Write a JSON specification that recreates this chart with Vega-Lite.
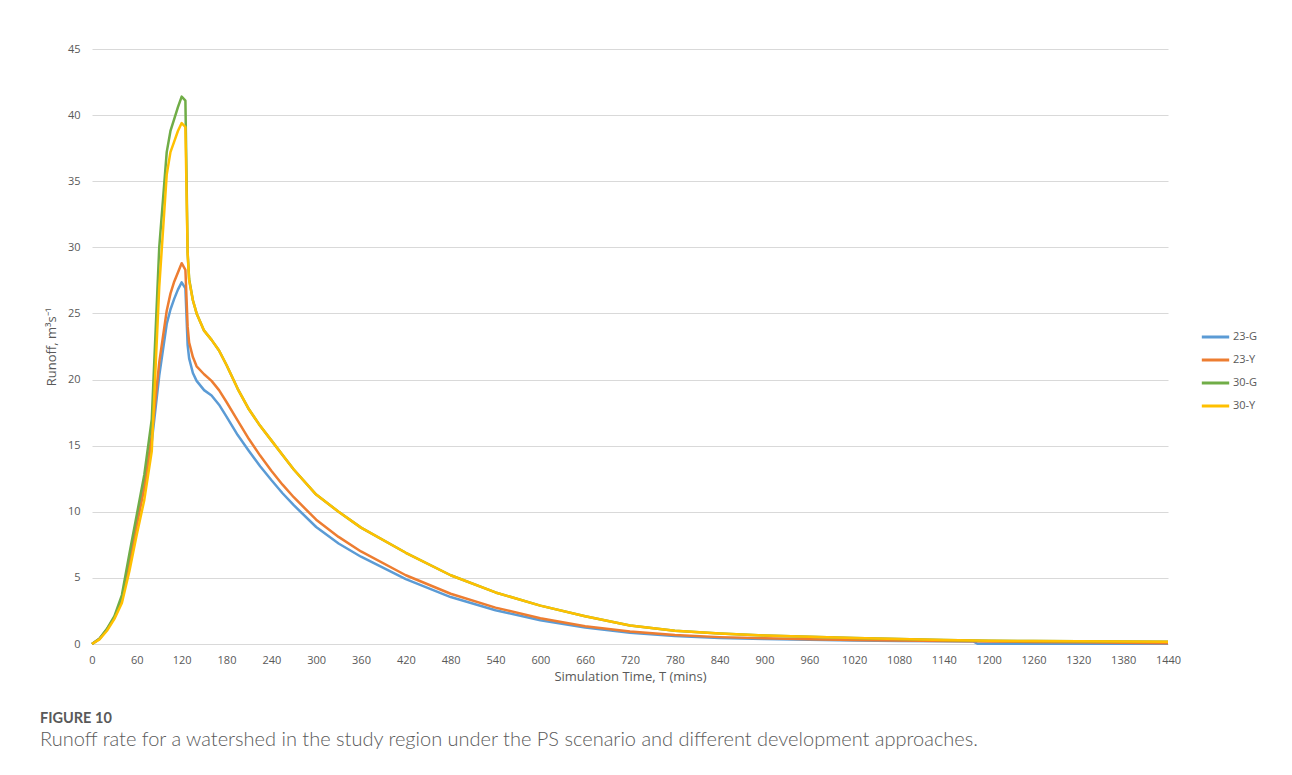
{
  "$schema": "https://vega.github.io/schema/vega-lite/v6.json",
  "autosize": {"type": "none"},
  "padding": {"left": 92, "top": 49, "right": 124, "bottom": 131},
  "width": 1076,
  "height": 595,
  "background": "white",
  "title": {
    "text": "FIGURE 10",
    "subtitle": "Runoff rate for a watershed in the study region under the PS scenario and different development approaches.",
    "orient": "bottom",
    "anchor": "start",
    "frame": "group",
    "dx": -52,
    "offset": 29,
    "font": "Lato",
    "fontSize": 14.5,
    "fontWeight": "bold",
    "color": "#595959",
    "subtitleFont": "Lato",
    "subtitleFontSize": 20,
    "subtitleFontWeight": 300,
    "subtitleColor": "#5a5a5a",
    "subtitlePadding": 3
  },
  "config": {
    "view": {"stroke": null},
    "axis": {
      "labelFont": "Open Sans",
      "labelFontSize": 11,
      "labelColor": "#595959",
      "titleFont": "Open Sans",
      "titleFontSize": 13,
      "titleFontWeight": "normal",
      "titleColor": "#595959",
      "gridColor": "#d9d9d9",
      "gridWidth": 1,
      "ticks": false,
      "domain": false
    }
  },
  "data": {
    "values": [
      {"t":0,"s":"23-G","q":0},{"t":10,"s":"23-G","q":0.4},{"t":20,"s":"23-G","q":1.1},{"t":30,"s":"23-G","q":2.0},{"t":40,"s":"23-G","q":3.4},{"t":50,"s":"23-G","q":6.3},{"t":60,"s":"23-G","q":9.3},{"t":70,"s":"23-G","q":12.0},{"t":80,"s":"23-G","q":15.3},{"t":90,"s":"23-G","q":20.3},{"t":100,"s":"23-G","q":24.2},{"t":105,"s":"23-G","q":25.3},{"t":110,"s":"23-G","q":26.1},{"t":115,"s":"23-G","q":26.8},{"t":120,"s":"23-G","q":27.35},{"t":125,"s":"23-G","q":26.9},{"t":128,"s":"23-G","q":22.6},{"t":130,"s":"23-G","q":21.6},{"t":135,"s":"23-G","q":20.5},{"t":140,"s":"23-G","q":19.9},{"t":150,"s":"23-G","q":19.2},{"t":160,"s":"23-G","q":18.8},{"t":170,"s":"23-G","q":18.1},{"t":180,"s":"23-G","q":17.2},{"t":195,"s":"23-G","q":15.8},{"t":210,"s":"23-G","q":14.6},{"t":225,"s":"23-G","q":13.45},{"t":240,"s":"23-G","q":12.4},{"t":255,"s":"23-G","q":11.4},{"t":270,"s":"23-G","q":10.5},{"t":300,"s":"23-G","q":8.85},{"t":330,"s":"23-G","q":7.6},{"t":360,"s":"23-G","q":6.6},{"t":420,"s":"23-G","q":4.9},{"t":480,"s":"23-G","q":3.55},{"t":540,"s":"23-G","q":2.55},{"t":600,"s":"23-G","q":1.8},{"t":660,"s":"23-G","q":1.25},{"t":720,"s":"23-G","q":0.85},{"t":780,"s":"23-G","q":0.6},{"t":840,"s":"23-G","q":0.45},{"t":900,"s":"23-G","q":0.38},{"t":960,"s":"23-G","q":0.32},{"t":1020,"s":"23-G","q":0.27},{"t":1080,"s":"23-G","q":0.23},{"t":1140,"s":"23-G","q":0.2},{"t":1180,"s":"23-G","q":0.18},{"t":1185,"s":"23-G","q":0.02},{"t":1200,"s":"23-G","q":0.02},{"t":1260,"s":"23-G","q":0.02},{"t":1320,"s":"23-G","q":0.02},{"t":1380,"s":"23-G","q":0.02},{"t":1440,"s":"23-G","q":0.02},

      {"t":0,"s":"23-Y","q":0},{"t":10,"s":"23-Y","q":0.4},{"t":20,"s":"23-Y","q":1.1},{"t":30,"s":"23-Y","q":2.0},{"t":40,"s":"23-Y","q":3.3},{"t":50,"s":"23-Y","q":6.0},{"t":60,"s":"23-Y","q":9.0},{"t":70,"s":"23-Y","q":11.8},{"t":80,"s":"23-Y","q":15.8},{"t":90,"s":"23-Y","q":21.3},{"t":100,"s":"23-Y","q":25.2},{"t":105,"s":"23-Y","q":26.5},{"t":110,"s":"23-Y","q":27.4},{"t":115,"s":"23-Y","q":28.1},{"t":120,"s":"23-Y","q":28.8},{"t":125,"s":"23-Y","q":28.3},{"t":128,"s":"23-Y","q":24.0},{"t":130,"s":"23-Y","q":22.8},{"t":135,"s":"23-Y","q":21.7},{"t":140,"s":"23-Y","q":21.0},{"t":150,"s":"23-Y","q":20.4},{"t":160,"s":"23-Y","q":19.9},{"t":170,"s":"23-Y","q":19.2},{"t":180,"s":"23-Y","q":18.3},{"t":195,"s":"23-Y","q":16.9},{"t":210,"s":"23-Y","q":15.5},{"t":225,"s":"23-Y","q":14.25},{"t":240,"s":"23-Y","q":13.1},{"t":255,"s":"23-Y","q":12.05},{"t":270,"s":"23-Y","q":11.1},{"t":300,"s":"23-Y","q":9.4},{"t":330,"s":"23-Y","q":8.1},{"t":360,"s":"23-Y","q":7.0},{"t":420,"s":"23-Y","q":5.2},{"t":480,"s":"23-Y","q":3.8},{"t":540,"s":"23-Y","q":2.75},{"t":600,"s":"23-Y","q":1.95},{"t":660,"s":"23-Y","q":1.35},{"t":720,"s":"23-Y","q":0.95},{"t":780,"s":"23-Y","q":0.68},{"t":840,"s":"23-Y","q":0.52},{"t":900,"s":"23-Y","q":0.43},{"t":960,"s":"23-Y","q":0.36},{"t":1020,"s":"23-Y","q":0.3},{"t":1080,"s":"23-Y","q":0.26},{"t":1140,"s":"23-Y","q":0.22},{"t":1180,"s":"23-Y","q":0.2},{"t":1200,"s":"23-Y","q":0.19},{"t":1260,"s":"23-Y","q":0.16},{"t":1320,"s":"23-Y","q":0.13},{"t":1380,"s":"23-Y","q":0.1},{"t":1440,"s":"23-Y","q":0.05},

      {"t":0,"s":"30-G","q":0},{"t":10,"s":"30-G","q":0.4},{"t":20,"s":"30-G","q":1.15},{"t":30,"s":"30-G","q":2.1},{"t":40,"s":"30-G","q":3.7},{"t":50,"s":"30-G","q":6.8},{"t":60,"s":"30-G","q":9.8},{"t":70,"s":"30-G","q":12.8},{"t":80,"s":"30-G","q":17.0},{"t":90,"s":"30-G","q":30.0},{"t":100,"s":"30-G","q":37.2},{"t":105,"s":"30-G","q":38.8},{"t":110,"s":"30-G","q":39.7},{"t":115,"s":"30-G","q":40.6},{"t":120,"s":"30-G","q":41.4},{"t":125,"s":"30-G","q":41.1},{"t":128,"s":"30-G","q":29.6},{"t":130,"s":"30-G","q":27.6},{"t":135,"s":"30-G","q":26.0},{"t":140,"s":"30-G","q":25.0},{"t":150,"s":"30-G","q":23.7},{"t":160,"s":"30-G","q":23.0},{"t":170,"s":"30-G","q":22.2},{"t":180,"s":"30-G","q":21.1},{"t":195,"s":"30-G","q":19.3},{"t":210,"s":"30-G","q":17.75},{"t":225,"s":"30-G","q":16.5},{"t":240,"s":"30-G","q":15.4},{"t":255,"s":"30-G","q":14.3},{"t":270,"s":"30-G","q":13.2},{"t":300,"s":"30-G","q":11.3},{"t":330,"s":"30-G","q":10.0},{"t":360,"s":"30-G","q":8.8},{"t":420,"s":"30-G","q":6.9},{"t":480,"s":"30-G","q":5.2},{"t":540,"s":"30-G","q":3.9},{"t":600,"s":"30-G","q":2.9},{"t":660,"s":"30-G","q":2.1},{"t":720,"s":"30-G","q":1.4},{"t":780,"s":"30-G","q":1.0},{"t":840,"s":"30-G","q":0.8},{"t":900,"s":"30-G","q":0.65},{"t":960,"s":"30-G","q":0.55},{"t":1020,"s":"30-G","q":0.45},{"t":1080,"s":"30-G","q":0.38},{"t":1140,"s":"30-G","q":0.3},{"t":1200,"s":"30-G","q":0.25},{"t":1260,"s":"30-G","q":0.22},{"t":1320,"s":"30-G","q":0.2},{"t":1380,"s":"30-G","q":0.18},{"t":1440,"s":"30-G","q":0.17},

      {"t":0,"s":"30-Y","q":0},{"t":10,"s":"30-Y","q":0.35},{"t":20,"s":"30-Y","q":1.0},{"t":30,"s":"30-Y","q":1.9},{"t":40,"s":"30-Y","q":3.1},{"t":50,"s":"30-Y","q":5.5},{"t":60,"s":"30-Y","q":8.3},{"t":70,"s":"30-Y","q":10.9},{"t":80,"s":"30-Y","q":14.6},{"t":90,"s":"30-Y","q":27.0},{"t":100,"s":"30-Y","q":35.5},{"t":105,"s":"30-Y","q":37.2},{"t":110,"s":"30-Y","q":38.0},{"t":115,"s":"30-Y","q":38.8},{"t":120,"s":"30-Y","q":39.4},{"t":125,"s":"30-Y","q":39.1},{"t":128,"s":"30-Y","q":29.5},{"t":130,"s":"30-Y","q":27.5},{"t":135,"s":"30-Y","q":26.0},{"t":140,"s":"30-Y","q":25.0},{"t":150,"s":"30-Y","q":23.7},{"t":160,"s":"30-Y","q":23.0},{"t":170,"s":"30-Y","q":22.2},{"t":180,"s":"30-Y","q":21.1},{"t":195,"s":"30-Y","q":19.3},{"t":210,"s":"30-Y","q":17.75},{"t":225,"s":"30-Y","q":16.5},{"t":240,"s":"30-Y","q":15.4},{"t":255,"s":"30-Y","q":14.3},{"t":270,"s":"30-Y","q":13.2},{"t":300,"s":"30-Y","q":11.3},{"t":330,"s":"30-Y","q":10.0},{"t":360,"s":"30-Y","q":8.8},{"t":420,"s":"30-Y","q":6.9},{"t":480,"s":"30-Y","q":5.2},{"t":540,"s":"30-Y","q":3.9},{"t":600,"s":"30-Y","q":2.9},{"t":660,"s":"30-Y","q":2.1},{"t":720,"s":"30-Y","q":1.4},{"t":780,"s":"30-Y","q":1.0},{"t":840,"s":"30-Y","q":0.8},{"t":900,"s":"30-Y","q":0.65},{"t":960,"s":"30-Y","q":0.55},{"t":1020,"s":"30-Y","q":0.45},{"t":1080,"s":"30-Y","q":0.38},{"t":1140,"s":"30-Y","q":0.3},{"t":1200,"s":"30-Y","q":0.25},{"t":1260,"s":"30-Y","q":0.22},{"t":1320,"s":"30-Y","q":0.2},{"t":1380,"s":"30-Y","q":0.18},{"t":1440,"s":"30-Y","q":0.17}
    ]
  },
  "mark": {"type": "line", "strokeWidth": 2.5, "strokeJoin": "round"},
  "encoding": {
    "x": {
      "field": "t",
      "type": "quantitative",
      "scale": {"domain": [0, 1440], "nice": false},
      "axis": {
        "values": [0,60,120,180,240,300,360,420,480,540,600,660,720,780,840,900,960,1020,1080,1140,1200,1260,1320,1380,1440],
        "format": "d",
        "labelFlush": false,
        "title": "Simulation Time, T (mins)",
        "grid": false,
        "labelPadding": 10,
        "titlePadding": 5
      }
    },
    "y": {
      "field": "q",
      "type": "quantitative",
      "scale": {"domain": [0, 45], "nice": false},
      "axis": {
        "values": [0,5,10,15,20,25,30,35,40,45],
        "title": "Runoff, m³s⁻¹",
        "labelPadding": 12,
        "titlePadding": 9
      }
    },
    "color": {
      "field": "s",
      "type": "nominal",
      "scale": {
        "domain": ["23-G", "23-Y", "30-G", "30-Y"],
        "range": ["#5B9BD5", "#ED7D31", "#70AD47", "#FFC000"]
      },
      "legend": {
        "title": null,
        "orient": "none",
        "legendX": 1108,
        "legendY": 280,
        "symbolType": "stroke",
        "symbolSize": 750,
        "symbolStrokeWidth": 3,
        "clipHeight": 16,
        "rowPadding": 7,
        "labelFont": "Open Sans",
        "labelFontSize": 11,
        "labelColor": "#595959",
        "labelOffset": 2
      }
    }
  }
}
